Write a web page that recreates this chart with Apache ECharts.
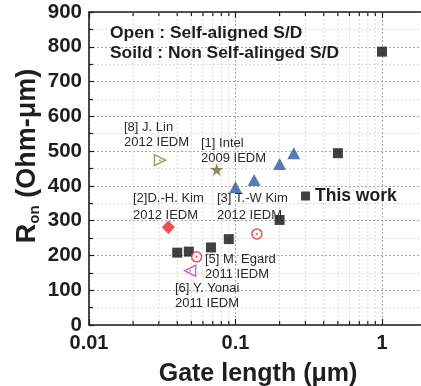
<!DOCTYPE html>
<html>
<head>
<meta charset="utf-8">
<script src="https://cdn.jsdelivr.net/npm/echarts@6/dist/echarts.min.js"></script>
<style>
  html, body { margin: 0; padding: 0; background: #fff; }
  #chart { width: 421px; height: 386px; }
</style>
</head>
<body>
<div id="chart"></div>
<script>
// Gate length (um) vs on-resistance (Ohm-um)
const thisWork = [[0.04, 208], [0.048, 211], [0.068, 223], [0.09, 247], [0.2, 302], [0.5, 494], [1, 786]];
const kimTW    = [[0.1, 396], [0.134, 417], [0.2, 463], [0.25, 494]];
const linJ     = [[0.0305, 474]];
const intel    = [[0.0745, 447]];
const kimDH    = [[0.0348, 281]];
const egard    = [[0.0543, 196], [0.14, 262]];
const yonai    = [[0.049, 156]];

// minor positions on the log axis (2..9 within each decade)
const xMinor = [0.02, 0.03, 0.04, 0.05, 0.06, 0.07, 0.08, 0.09,
                0.2, 0.3, 0.4, 0.5, 0.6, 0.7, 0.8, 0.9,
                2, 3, 4, 5, 6, 7, 8, 9];

const X_MIN = 0.01, X_MAX = 10, Y_MIN = 0, Y_MAX = 900;
const FONT = '"Liberation Sans", Arial, Helvetica, sans-serif';
const INK = '#1e1e1e';

const chart = echarts.init(document.getElementById('chart'), null, { renderer: 'canvas' });

function minorGrid(params, api) {
  const x = api.value(0);
  const b = api.coord([x, Y_MIN]);
  const t = api.coord([x, Y_MAX]);
  return {
    type: 'group',
    children: [
      { type: 'line', shape: { x1: b[0], y1: b[1], x2: t[0], y2: t[1] },
        style: { stroke: '#d9d9d9', lineWidth: 1, lineDash: [2, 2] } },
      { type: 'line', shape: { x1: b[0], y1: b[1], x2: b[0], y2: b[1] - 4 },
        style: { stroke: INK, lineWidth: 1.2 } },
      { type: 'line', shape: { x1: t[0], y1: t[1], x2: t[0], y2: t[1] + 4 },
        style: { stroke: INK, lineWidth: 1.2 } }
    ]
  };
}

function openDots(data, color) {
  return {
    type: 'scatter', data: data, symbol: 'circle', symbolSize: 2,
    itemStyle: { color: color }, silent: true, z: 6
  };
}

const note = (x, y, text) => ({
  type: 'text', x: x, y: y, z: 100,
  style: { text: text, fill: '#2a2a2a', font: '13px ' + FONT, textVerticalAlign: 'middle' }
});

chart.setOption({
  animation: false,
  backgroundColor: '#fff',
  grid: { left: 89, top: 12, width: 439.5, height: 313, containLabel: false, outerBoundsMode: 'none' },
  legend: {
    data: ['This work'],
    left: 301, top: 187, padding: 0,
    icon: 'rect', itemWidth: 9, itemHeight: 9,
    textStyle: { fontFamily: FONT, fontWeight: 'bold', fontSize: 17.5, color: INK }
  },
  xAxis: [{
    type: 'log', logBase: 10, min: X_MIN, max: X_MAX,
    axisLine: { lineStyle: { color: INK, width: 1.6 } },
    axisTick: { inside: true, length: 6, lineStyle: { color: INK, width: 1.2 } },
    axisLabel: { margin: 8, color: INK, fontFamily: FONT, fontWeight: 'bold', fontSize: 20 },
    splitLine: { show: true, lineStyle: { color: '#a8a8a8', type: [2, 2], width: 1 } }
  }, {
    type: 'log', logBase: 10, min: X_MIN, max: X_MAX, position: 'top',
    axisLine: { lineStyle: { color: INK, width: 1.6 } },
    axisTick: { inside: true, length: 6, lineStyle: { color: INK, width: 1.2 } },
    axisLabel: { show: false },
    splitLine: { show: false }
  }],
  yAxis: {
    type: 'value', min: Y_MIN, max: Y_MAX, interval: 100,
    axisLine: { show: true, lineStyle: { color: INK, width: 1.6 } },
    axisTick: { show: true, inside: true, length: 5, lineStyle: { color: INK, width: 1.2 } },
    minorTick: { show: true, splitNumber: 2, length: 4, lineStyle: { color: INK, width: 1.2 } },
    axisLabel: { margin: 7, color: INK, fontFamily: FONT, fontWeight: 'bold', fontSize: 20.5 },
    splitLine: { show: true, lineStyle: { color: '#a8a8a8', type: [2, 2], width: 1 } },
    minorSplitLine: { show: true, lineStyle: { color: '#dcdcdc', type: [2, 2], width: 1 } }
  },
  series: [
    {
      type: 'custom', name: 'minor', silent: true, z: 1,
      data: xMinor.map(v => [v, 0]),
      renderItem: minorGrid
    },
    {
      name: 'This work', type: 'scatter', data: thisWork,
      symbol: 'rect', symbolSize: 10, itemStyle: { color: '#111' }, z: 5
    },
    {
      name: '[3] T.-W Kim', type: 'scatter', data: kimTW,
      symbol: 'triangle', symbolSize: [13, 12], itemStyle: { color: '#2a5aa8' }, z: 5
    },
    {
      name: '[8] J. Lin', type: 'scatter', data: linJ,
      symbol: 'triangle', symbolRotate: -90, symbolSize: [11, 11],
      itemStyle: { color: '#fff', borderColor: '#84843a', borderWidth: 1.5 }, z: 5
    },
    openDots(linJ, '#84843a'),
    {
      name: '[1] Intel', type: 'scatter', data: intel,
      symbol: 'path://M50,0 L61,35 L98,35 L68,57 L79,91 L50,70 L21,91 L32,57 L2,35 L39,35 Z',
      symbolSize: 13, itemStyle: { color: '#6e6e2c' }, z: 5
    },
    {
      name: '[2]D.-H. Kim', type: 'scatter', data: kimDH,
      symbol: 'diamond', symbolSize: [13, 14], itemStyle: { color: '#e8232b' }, z: 5
    },
    {
      name: '[5] M. Egard', type: 'scatter', data: egard,
      symbol: 'circle', symbolSize: 10,
      itemStyle: { color: '#fff', borderColor: '#e8232b', borderWidth: 1.5 }, z: 5
    },
    openDots(egard, '#e8232b'),
    {
      name: '[6] Y. Yonai', type: 'scatter', data: yonai,
      symbol: 'triangle', symbolRotate: 90, symbolSize: [11, 11],
      itemStyle: { color: '#fff', borderColor: '#b04cb8', borderWidth: 1.5 }, z: 5
    },
    openDots(yonai, '#b04cb8')
  ],
  graphic: [
    {
      type: 'text', x: 110, y: 33, z: 100,
      style: { text: 'Open : Self-aligned S/D', fill: INK, font: 'bold 17.4px ' + FONT, textVerticalAlign: 'middle' }
    },
    {
      type: 'text', x: 110, y: 53, z: 100,
      style: { text: 'Soild : Non Self-alinged S/D', fill: INK, font: 'bold 17.4px ' + FONT, textVerticalAlign: 'middle' }
    },
    note(124, 127, '[8] J. Lin'),
    note(124, 142, '2012 IEDM'),
    note(201, 143, '[1] Intel'),
    note(201, 158, '2009 IEDM'),
    note(133, 198, '[2]D.-H. Kim'),
    note(133, 215, '2012 IEDM'),
    note(217, 198, '[3] T.-W Kim'),
    note(217, 215, '2012 IEDM'),
    note(205, 259, '[5] M. Egard'),
    note(205, 274, '2011 IEDM'),
    note(175, 288, '[6] Y. Yonai'),
    note(175, 303, '2011 IEDM'),
    {
      type: 'text', x: 258, y: 374, z: 100,
      style: { text: 'Gate length (\u03bcm)', fill: INK, font: 'bold 25px ' + FONT,
               textAlign: 'center', textVerticalAlign: 'middle' }
    },
    {
      type: 'text', x: 28, y: 156, rotation: Math.PI / 2, z: 100,
      style: {
        text: 'R{s|on} (Ohm-\u03bcm)', fill: INK, font: 'bold 27px ' + FONT,
        align: 'center', verticalAlign: 'middle',
        rich: { s: { fontSize: 15, fontWeight: 'bold', fontFamily: FONT, fill: INK, padding: [14, 0, 0, 0] } }
      }
    }
  ]
});
</script>
</body>
</html>
